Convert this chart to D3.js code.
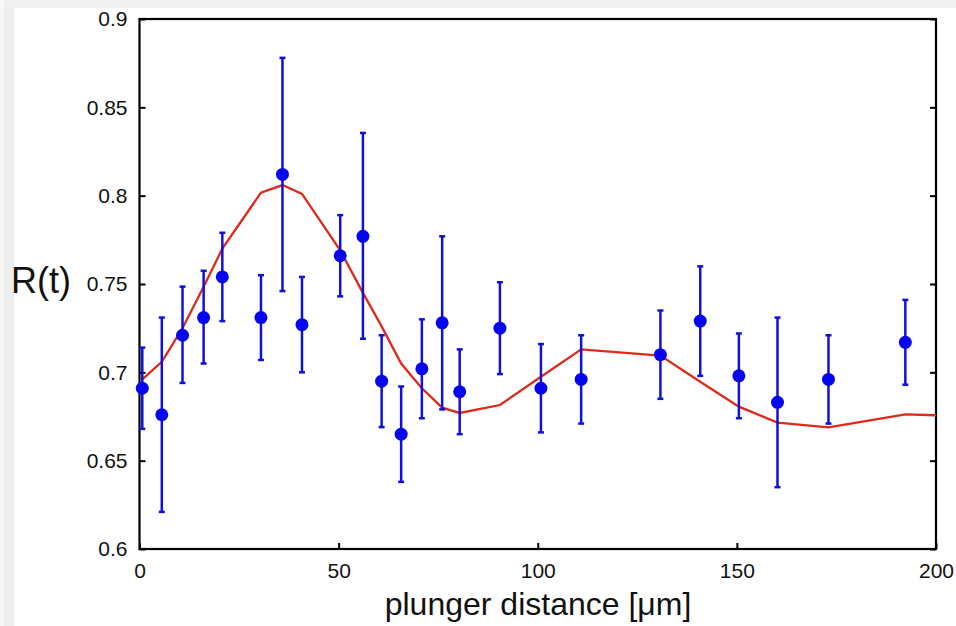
<!DOCTYPE html>
<html>
<head>
<meta charset="utf-8">
<script src="https://cdn.jsdelivr.net/npm/d3@7"></script>
<style>
  html, body { margin: 0; padding: 0; background: #fff; }
  svg { display: block; font-family: "Liberation Sans", Arial, sans-serif; }
  .tick text { font-size: 21px; fill: #111; }
</style>
</head>
<body>
<div id="chart"></div>
<script>
// measured points (x in µm) with error bar limits
const distance = [0.7, 5.6, 10.8, 16.1, 20.8, 30.5, 35.9, 40.8, 50.4, 56.1, 60.8, 65.7,
  70.9, 76.0, 80.4, 90.5, 100.8, 110.9, 130.8, 140.8, 150.5, 160.2, 173.0, 192.3];
const ratio = [0.691, 0.676, 0.721, 0.731, 0.754, 0.731, 0.812, 0.727, 0.766, 0.777, 0.695, 0.665,
  0.702, 0.728, 0.689, 0.725, 0.691, 0.696, 0.710, 0.729, 0.698, 0.683, 0.696, 0.717];
const errHigh = [0.714, 0.731, 0.7485, 0.7575, 0.779, 0.755, 0.878, 0.754, 0.789, 0.8355, 0.721, 0.692,
  0.730, 0.777, 0.713, 0.751, 0.716, 0.721, 0.735, 0.760, 0.722, 0.731, 0.721, 0.741];
const errLow = [0.668, 0.621, 0.694, 0.705, 0.729, 0.707, 0.746, 0.700, 0.743, 0.719, 0.669, 0.638,
  0.674, 0.679, 0.665, 0.699, 0.666, 0.671, 0.685, 0.698, 0.674, 0.635, 0.671, 0.693];

// fitted curve
const fitX = [0.7, 5.6, 10.8, 16.1, 20.8, 30.5, 35.9, 40.8, 50.4, 56.1, 60.8, 65.7,
  70.9, 76.0, 80.4, 90.5, 100.8, 110.9, 130.8, 140.8, 150.5, 160.2, 173.0, 192.3, 200];
const fitY = [0.696, 0.706, 0.725, 0.7485, 0.770, 0.8017, 0.806, 0.801, 0.769, 0.745, 0.726, 0.705,
  0.691, 0.680, 0.677, 0.6815, 0.6975, 0.713, 0.7095, 0.6947, 0.6806, 0.6715, 0.6689, 0.6762, 0.6757];

const xTicks = [0, 50, 100, 150, 200];
const yTicks = [0.6, 0.65, 0.7, 0.75, 0.8, 0.85, 0.9];

const width = 956, height = 626;
const margin = { top: 19, right: 20, bottom: 77, left: 139.5 };

const svg = d3.select("#chart").append("svg")
  .attr("width", width)
  .attr("height", height);

// screenshot edge strips
svg.append("rect").attr("x", 0).attr("y", 0).attr("width", width).attr("height", 8).attr("fill", "#f0f0f0");
svg.append("rect").attr("x", 0).attr("y", 0).attr("width", 4).attr("height", height).attr("fill", "#f7f7f7");
svg.append("rect").attr("x", 4).attr("y", 8).attr("width", 10).attr("height", height - 8).attr("fill", "#eeeeee");

const x = d3.scaleLinear().domain([0, 200]).range([margin.left, width - margin.right]);
const y = d3.scaleLinear().domain([0.6, 0.9]).range([height - margin.bottom, margin.top]);

// axes with inward ticks
const fmt = d3.format("");
svg.append("g")
  .attr("transform", `translate(0,${y(0.6)})`)
  .call(d3.axisBottom(x).tickValues(xTicks).tickSize(-6).tickPadding(14).tickFormat(fmt))
  .call(g => g.select(".domain").remove())
  .call(g => g.selectAll("line").attr("stroke", "#000").attr("stroke-width", 2));

svg.append("g")
  .attr("transform", `translate(${x(0)},0)`)
  .call(d3.axisLeft(y).tickValues(yTicks).tickSize(-6).tickPadding(12).tickFormat(fmt))
  .call(g => g.select(".domain").remove())
  .call(g => g.selectAll("line").attr("stroke", "#000").attr("stroke-width", 2));

svg.append("g")
  .attr("transform", `translate(${x(200)},0)`)
  .call(d3.axisRight(y).tickValues(yTicks).tickSize(-6).tickFormat(""))
  .call(g => g.select(".domain").remove())
  .call(g => g.selectAll("line").attr("stroke", "#000").attr("stroke-width", 2));

// frame
svg.append("rect")
  .attr("x", x(0)).attr("y", y(0.9))
  .attr("width", x(200) - x(0)).attr("height", y(0.6) - y(0.9))
  .attr("fill", "none").attr("stroke", "#000").attr("stroke-width", 2.2);

// fit line
const line = d3.line().x((d, i) => x(fitX[i])).y(d => y(d));
svg.append("path")
  .datum(fitY)
  .attr("d", line)
  .attr("fill", "none")
  .attr("stroke", "#dd2a1a")
  .attr("stroke-width", 2.3);

// error bars
const pts = distance.map((d, i) => ({ x: d, y: ratio[i], hi: errHigh[i], lo: errLow[i] }));
const eb = svg.append("g").attr("stroke", "#1010dd").attr("stroke-width", 2.5);
eb.selectAll(".v").data(pts).enter().append("line")
  .attr("x1", d => x(d.x)).attr("x2", d => x(d.x))
  .attr("y1", d => y(d.hi)).attr("y2", d => y(d.lo));
eb.selectAll(".c1").data(pts).enter().append("line")
  .attr("x1", d => x(d.x) - 3).attr("x2", d => x(d.x) + 3)
  .attr("y1", d => y(d.hi)).attr("y2", d => y(d.hi));
eb.selectAll(".c2").data(pts).enter().append("line")
  .attr("x1", d => x(d.x) - 3).attr("x2", d => x(d.x) + 3)
  .attr("y1", d => y(d.lo)).attr("y2", d => y(d.lo));

svg.append("g").selectAll("circle").data(pts).enter().append("circle")
  .attr("cx", d => x(d.x)).attr("cy", d => y(d.y))
  .attr("r", 6.5)
  .attr("fill", "#0505f0");

// axis titles
svg.append("text")
  .attr("x", 538).attr("y", 615)
  .attr("text-anchor", "middle")
  .attr("font-size", 32)
  .attr("fill", "#111")
  .text("plunger distance [μm]");

svg.append("text")
  .attr("x", 11).attr("y", 293)
  .attr("font-size", 36)
  .attr("fill", "#111")
  .text("R(t)");
</script>
</body>
</html>
